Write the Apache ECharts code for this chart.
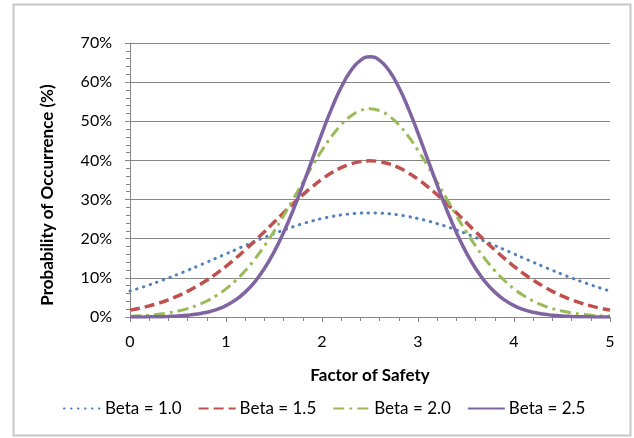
<!DOCTYPE html>
<html><head><meta charset="utf-8">
<script src="https://cdn.jsdelivr.net/npm/echarts@6/dist/echarts.min.js"></script>
<style>html,body{margin:0;padding:0;background:#fff}#c{width:634px;height:438px}</style>
</head><body><div id="c"></div>
<script>
// Factor of safety values (x), 0 to 5 in steps of 0.1
var factorOfSafety = [0,0.1,0.2,0.3,0.4,0.5,0.6,0.7,0.8,0.9,1,1.1,1.2,1.3,1.4,1.5,1.6,1.7,1.8,1.9,2,2.1,2.2,2.3,2.4,2.5,2.6,2.7,2.8,2.9,3,3.1,3.2,3.3,3.4,3.5,3.6,3.7,3.8,3.9,4,4.1,4.2,4.3,4.4,4.5,4.6,4.7,4.8,4.9,5];
// Probability of occurrence (%)
var beta10 = [6.63,7.39,8.21,9.07,9.98,10.93,11.92,12.95,13.99,15.06,16.13,17.20,18.27,19.31,20.33,21.30,22.21,23.07,23.85,24.55,25.16,25.67,26.07,26.36,26.54,26.60,26.54,26.36,26.07,25.67,25.16,24.55,23.85,23.07,22.21,21.30,20.33,19.31,18.27,17.20,16.13,15.06,13.99,12.95,11.92,10.93,9.98,9.07,8.21,7.39,6.63];
var beta15 = [1.75,2.24,2.83,3.55,4.40,5.40,6.56,7.90,9.40,11.09,12.95,14.97,17.14,19.42,21.78,24.20,26.61,28.97,31.22,33.32,35.21,36.83,38.14,39.10,39.69,39.89,39.69,39.10,38.14,36.83,35.21,33.32,31.22,28.97,26.61,24.20,21.78,19.42,17.14,14.97,12.95,11.09,9.40,7.90,6.56,5.40,4.40,3.55,2.83,2.24,1.75];
var beta20 = [0.21,0.32,0.48,0.72,1.06,1.52,2.15,2.99,4.08,5.47,7.20,9.32,11.84,14.79,18.15,21.87,25.89,30.12,34.41,38.63,42.59,46.14,49.10,51.33,52.72,53.19,52.72,51.33,49.10,46.14,42.59,38.63,34.41,30.12,25.89,21.87,18.15,14.79,11.84,9.32,7.20,5.47,4.08,2.99,2.15,1.52,1.06,0.72,0.48,0.32,0.21];
var beta25 = [0.01,0.02,0.04,0.08,0.15,0.26,0.44,0.74,1.20,1.90,2.92,4.37,6.36,9.00,12.39,16.58,21.59,27.33,33.67,40.33,46.98,53.24,58.68,62.90,65.57,66.49,65.57,62.90,58.68,53.24,46.98,40.33,33.67,27.33,21.59,16.58,12.39,9.00,6.36,4.37,2.92,1.90,1.20,0.74,0.44,0.26,0.15,0.08,0.04,0.02,0.01];
var seriesNames = ['Beta = 1.0','Beta = 1.5','Beta = 2.0','Beta = 2.5'];
var yTicks = [0,10,20,30,40,50,60,70];

function pairs(arr){ return factorOfSafety.map(function(x,i){ return [x, arr[i]]; }); }

var font = 'Lato, "Open Sans", sans-serif';
var chart = echarts.init(document.getElementById('c'), null, {renderer:'canvas'});
var axisGray = '#868686';
chart.setOption({
  animation:false,
  backgroundColor:'#fff',
  graphic:[{type:'rect', shape:{x:13.5,y:4.5,width:617,height:431}, style:{fill:'none', stroke:'#c8c8c8', lineWidth:2}, silent:true}],
  grid:{left:130, right:24, top:43, bottom:121},
  xAxis:{
    type:'value', min:0, max:5, interval:1,
    name:'Factor of Safety', nameLocation:'middle', nameGap:50,
    nameTextStyle:{fontFamily:font, fontSize:17, fontWeight:'bold', color:'#000'},
    axisLine:{show:true, lineStyle:{color:axisGray, width:1}},
    axisTick:{show:true, length:5, lineStyle:{color:axisGray}},
    minorTick:{show:true, splitNumber:5, length:4, lineStyle:{color:axisGray}},
    axisLabel:{fontFamily:font, fontSize:16, color:'#000', margin:17},
    splitLine:{show:false}
  },
  yAxis:{
    type:'value', min:0, max:70, interval:10,
    name:'Probability of Occurrence (%)', nameLocation:'middle', nameGap:74, nameRotate:90,
    nameTextStyle:{fontFamily:font, fontSize:17, fontWeight:'bold', color:'#000', padding:[0,30,0,0]},
    axisLine:{show:true, lineStyle:{color:axisGray, width:1}},
    axisTick:{show:true, length:5, lineStyle:{color:axisGray}},
    minorTick:{show:true, splitNumber:5, length:4, lineStyle:{color:axisGray}},
    axisLabel:{fontFamily:font, fontSize:16, color:'#000', margin:18, formatter:function(v){ return yTicks.indexOf(v)>=0 ? v+'%' : ''; }},
    splitLine:{show:true, lineStyle:{color:axisGray, width:1}}
  },
  legend:{
    bottom:16, left:58, itemWidth:37, itemHeight:10, itemGap:16,
    itemStyle:{opacity:0},
    textStyle:{fontFamily:font, fontSize:17, color:'#000', padding:[0,0,0,-1]},
    data:seriesNames
  },
  series:[
    {name:seriesNames[0], type:'line', smooth:true, symbol:'none', data:pairs(beta10),
     lineStyle:{color:'#4F81BD', width:3, type:[0.5,6.5], cap:'round'}, itemStyle:{color:'#4F81BD'}},
    {name:seriesNames[1], type:'line', smooth:true, symbol:'none', data:pairs(beta15),
     lineStyle:{color:'#C0504D', width:3.5, type:[10,5]}, itemStyle:{color:'#C0504D'}},
    {name:seriesNames[2], type:'line', smooth:true, symbol:'none', data:pairs(beta20),
     lineStyle:{color:'#9BBB59', width:3, type:[11,5,3,5]}, itemStyle:{color:'#9BBB59'}},
    {name:seriesNames[3], type:'line', smooth:true, symbol:'none', data:pairs(beta25),
     lineStyle:{color:'#8064A2', width:3.5, type:'solid'}, itemStyle:{color:'#8064A2'}}
  ]
});
</script></body></html>
